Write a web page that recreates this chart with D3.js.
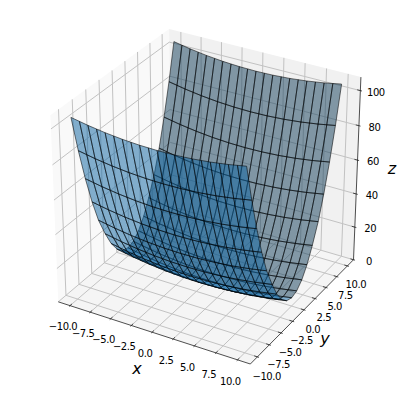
<!DOCTYPE html>
<html>
<head>
<meta charset="utf-8">
<script src="https://cdn.jsdelivr.net/npm/d3@7"></script>
<style>
  html, body { margin: 0; padding: 0; background: #fff; }
  text { font-family: "DejaVu Sans", sans-serif; fill: #000; }
</style>
</head>
<body>
<div id="chart"></div>
<script>
////////////////////////////////////////////////////////////////////////
// Values

let xGrid = [-10, -9, -8, -7, -6, -5, -4, -3, -2, -1, 0, 1, 2, 3, 4, 5, 6, 7, 8, 9, 10];
let blueY = [-10, -8.9, -7.8, -6.7, -5.6, -4.4, -3.3, -2.2, -1.1, 0];
let greyY = [0, 1.1, 2.2, 3.3, 4.4, 5.6, 6.7, 7.8, 8.9, 10];

// one row per entry of blueY, one column per entry of xGrid
let blueZ = [
  [105, 104.1, 103.2, 102.5, 101.8, 101.3, 100.8, 100.5, 100.2, 100.1, 100, 100.1, 100.2, 100.5, 100.8, 101.3, 101.8, 102.5, 103.2, 104.1, 105],
  [84, 83.1, 82.2, 81.5, 80.8, 80.3, 79.8, 79.5, 79.2, 79.1, 79, 79.1, 79.2, 79.5, 79.8, 80.3, 80.8, 81.5, 82.2, 83.1, 84],
  [65.5, 64.6, 63.7, 63, 62.3, 61.8, 61.3, 61, 60.7, 60.6, 60.5, 60.6, 60.7, 61, 61.3, 61.8, 62.3, 63, 63.7, 64.6, 65.5],
  [49.4, 48.5, 47.6, 46.9, 46.2, 45.7, 45.2, 44.9, 44.6, 44.5, 44.4, 44.5, 44.6, 44.9, 45.2, 45.7, 46.2, 46.9, 47.6, 48.5, 49.4],
  [35.9, 35, 34.1, 33.4, 32.7, 32.2, 31.7, 31.4, 31.1, 31, 30.9, 31, 31.1, 31.4, 31.7, 32.2, 32.7, 33.4, 34.1, 35, 35.9],
  [24.8, 23.9, 23, 22.3, 21.6, 21.1, 20.6, 20.3, 20, 19.9, 19.8, 19.9, 20, 20.3, 20.6, 21.1, 21.6, 22.3, 23, 23.9, 24.8],
  [16.1, 15.2, 14.3, 13.6, 12.9, 12.4, 11.9, 11.6, 11.3, 11.2, 11.1, 11.2, 11.3, 11.6, 11.9, 12.4, 12.9, 13.6, 14.3, 15.2, 16.1],
  [9.9, 9, 8.1, 7.4, 6.7, 6.2, 5.7, 5.4, 5.1, 5, 4.9, 5, 5.1, 5.4, 5.7, 6.2, 6.7, 7.4, 8.1, 9, 9.9],
  [6.2, 5.3, 4.4, 3.7, 3, 2.5, 2, 1.7, 1.4, 1.3, 1.2, 1.3, 1.4, 1.7, 2, 2.5, 3, 3.7, 4.4, 5.3, 6.2],
  [5, 4.1, 3.2, 2.5, 1.8, 1.3, 0.8, 0.5, 0.2, 0.1, 0, 0.1, 0.2, 0.5, 0.8, 1.3, 1.8, 2.5, 3.2, 4.1, 5]
];

// one row per entry of greyY, one column per entry of xGrid
let greyZ = [
  [5, 4.1, 3.2, 2.5, 1.8, 1.3, 0.8, 0.5, 0.2, 0.1, 0, 0.1, 0.2, 0.5, 0.8, 1.3, 1.8, 2.5, 3.2, 4.1, 5],
  [6.2, 5.3, 4.4, 3.7, 3, 2.5, 2, 1.7, 1.4, 1.3, 1.2, 1.3, 1.4, 1.7, 2, 2.5, 3, 3.7, 4.4, 5.3, 6.2],
  [9.9, 9, 8.1, 7.4, 6.7, 6.2, 5.7, 5.4, 5.1, 5, 4.9, 5, 5.1, 5.4, 5.7, 6.2, 6.7, 7.4, 8.1, 9, 9.9],
  [16.1, 15.2, 14.3, 13.6, 12.9, 12.4, 11.9, 11.6, 11.3, 11.2, 11.1, 11.2, 11.3, 11.6, 11.9, 12.4, 12.9, 13.6, 14.3, 15.2, 16.1],
  [24.8, 23.9, 23, 22.3, 21.6, 21.1, 20.6, 20.3, 20, 19.9, 19.8, 19.9, 20, 20.3, 20.6, 21.1, 21.6, 22.3, 23, 23.9, 24.8],
  [35.9, 35, 34.1, 33.4, 32.7, 32.2, 31.7, 31.4, 31.1, 31, 30.9, 31, 31.1, 31.4, 31.7, 32.2, 32.7, 33.4, 34.1, 35, 35.9],
  [49.4, 48.5, 47.6, 46.9, 46.2, 45.7, 45.2, 44.9, 44.6, 44.5, 44.4, 44.5, 44.6, 44.9, 45.2, 45.7, 46.2, 46.9, 47.6, 48.5, 49.4],
  [65.5, 64.6, 63.7, 63, 62.3, 61.8, 61.3, 61, 60.7, 60.6, 60.5, 60.6, 60.7, 61, 61.3, 61.8, 62.3, 63, 63.7, 64.6, 65.5],
  [84, 83.1, 82.2, 81.5, 80.8, 80.3, 79.8, 79.5, 79.2, 79.1, 79, 79.1, 79.2, 79.5, 79.8, 80.3, 80.8, 81.5, 82.2, 83.1, 84],
  [105, 104.1, 103.2, 102.5, 101.8, 101.3, 100.8, 100.5, 100.2, 100.1, 100, 100.1, 100.2, 100.5, 100.8, 101.3, 101.8, 102.5, 103.2, 104.1, 105]
];

let xTicks = [-10, -7.5, -5, -2.5, 0, 2.5, 5, 7.5, 10];
let yTicks = [-10, -7.5, -5, -2.5, 0, 2.5, 5, 7.5, 10];
let zTicks = [0, 20, 40, 60, 80, 100];

////////////////////////////////////////////////////////////////////////
// Layout

let width = 404;
let height = 394;

let svg = d3.select("#chart").append("svg")
  .attr("width", width)
  .attr("height", height)
  .style("display", "block");

// data -> unit box. z=0 sits on the floor of the box in the picture
let xScale = d3.scaleLinear().domain([-11, 11]).range([0, 1]);
let yScale = d3.scaleLinear().domain([-11, 11]).range([0, 1]);
let zScale = d3.scaleLinear().domain([0, 105]).range([-0.0208, 0.9683]);

// the drawn box sticks out of the limits by 1/48 of the range
let xLo = xScale.invert(-1 / 48), xHi = xScale.invert(49 / 48);
let yLo = yScale.invert(-1 / 48), yHi = yScale.invert(49 / 48);
let zLo = 0, zHi = 107.6;

// projected plane -> pixels
let pxX = d3.scaleLinear().domain([-0.095, 0.09]).range([6.1, 399.8]);
let pyY = d3.scaleLinear().domain([-0.095, 0.09]).range([387.9, -1.55]);

// Camera, the usual mplot3d one: elev 30, azim -60, distance 10
let elev = 30 * Math.PI / 180;
let azim = -60 * Math.PI / 180;
let dist = 10;
let n = [Math.cos(elev) * Math.cos(azim), Math.cos(elev) * Math.sin(azim), Math.sin(elev)];
let u = [-Math.sin(azim), Math.cos(azim), 0];
let v = [n[1] * u[2] - n[2] * u[1], n[2] * u[0] - n[0] * u[2], n[0] * u[1] - n[1] * u[0]];

function dot(a, b) { return a[0] * b[0] + a[1] * b[1] + a[2] * b[2]; }

// returns [px, py, depth] for a point given in data units
function project(x, y, z) {
  let d = [xScale(x) - 0.5, yScale(y) - 0.5, zScale(z) - 0.5];
  let depth = dist - dot(d, n);
  return [pxX(dot(d, u) / depth), pyY(dot(d, v) / depth), depth];
}

let line = d3.line();

function seg(g, a, b, color, w) {
  g.append("path")
    .attr("d", line([a, b].map(p => project(...p).slice(0, 2))))
    .attr("fill", "none")
    .attr("stroke", color)
    .attr("stroke-width", w);
}

function pane(g, pts, color) {
  g.append("path")
    .attr("d", line(pts.map(p => project(...p).slice(0, 2))) + "Z")
    .attr("fill", color)
    .attr("stroke", "none");
}

////////////////////////////////////////////////////////////////////////
// Panes and grid

let back = svg.append("g").attr("class", "panes");
pane(back, [[xLo, yLo, zLo], [xLo, yHi, zLo], [xLo, yHi, zHi], [xLo, yLo, zHi]], "#f9f9f9");
pane(back, [[xLo, yHi, zLo], [xHi, yHi, zLo], [xHi, yHi, zHi], [xLo, yHi, zHi]], "#f1f1f1");
pane(back, [[xLo, yLo, zLo], [xHi, yLo, zLo], [xHi, yHi, zLo], [xLo, yHi, zLo]], "#f5f5f5");

let grid = svg.append("g").attr("class", "grid");
let gridColor = "#c2c2c2";
xTicks.forEach(t => {
  seg(grid, [t, yLo, zLo], [t, yHi, zLo], gridColor, 1);
  seg(grid, [t, yHi, zLo], [t, yHi, zHi], gridColor, 1);
});
yTicks.forEach(t => {
  seg(grid, [xHi, t, zLo], [xLo, t, zLo], gridColor, 1);
  seg(grid, [xLo, t, zLo], [xLo, t, zHi], gridColor, 1);
});
zTicks.forEach(t => {
  seg(grid, [xHi, yHi, t], [xLo, yHi, t], gridColor, 1);
  seg(grid, [xLo, yHi, t], [xLo, yLo, t], gridColor, 1);
});

////////////////////////////////////////////////////////////////////////
// Axis lines, ticks, labels

let axes = svg.append("g").attr("class", "axes");
let axisColor = "#222";
let xPad = 22 / 12, yPad = 22 / 12;
let fmt = d3.format(".1f");

seg(axes, [xLo, yLo, zLo], [xHi, yLo, zLo], axisColor, 0.8);
seg(axes, [xHi, yLo, zLo], [xHi, yHi, zLo], axisColor, 0.8);
seg(axes, [xHi, yHi, zLo], [xHi, yHi, zHi], axisColor, 0.8);

function tickLabel(p, s) {
  axes.append("text")
    .attr("x", p[0])
    .attr("y", p[1])
    .attr("text-anchor", "middle")
    .attr("dominant-baseline", "central")
    .attr("font-size", "10px")
    .attr("letter-spacing", "-0.4px")
    .text(s);
}

// labels are pushed off the axis in box space, so they follow the perspective
xTicks.forEach(t => {
  seg(axes, [t, yLo - 0.1 * yPad, zLo], [t, yLo + 0.2 * yPad, zLo], axisColor, 0.8);
  tickLabel(project(t, yLo - 0.065 * 22, zLo - 0.082 * 106), fmt(t));
});
yTicks.forEach(t => {
  seg(axes, [xHi + 0.1 * xPad, t, zLo], [xHi - 0.2 * xPad, t, zLo], axisColor, 0.8);
  tickLabel(project(xHi + 0.05 * 22, t, zLo - 0.095 * 106), fmt(t));
});
zTicks.forEach(t => {
  seg(axes, [xHi + 0.1 * xPad, yHi, t], [xHi - 0.2 * xPad, yHi, t], axisColor, 0.8);
  let p = project(xHi, yHi, t);
  tickLabel([p[0] + 15.5, p[1] + 1.5], d3.format("d")(t));
});

function axisTitle(s, xp, yp) {
  axes.append("text")
    .attr("x", xp)
    .attr("y", yp)
    .attr("text-anchor", "middle")
    .attr("dominant-baseline", "central")
    .attr("font-size", "16px")
    .attr("font-style", "italic")
    .text(s);
}
axisTitle("x", 137, 368);
axisTitle("y", 325, 338);
axisTitle("z", 392, 168);

////////////////////////////////////////////////////////////////////////
// Surfaces. Cells are painted far to near inside each surface

function cells(ys, zs) {
  let out = [];
  for (let r = 0; r < ys.length - 1; r++) {
    for (let c = 0; c < xGrid.length - 1; c++) {
      let pts = [
        project(xGrid[c], ys[r], zs[r][c]),
        project(xGrid[c + 1], ys[r], zs[r][c + 1]),
        project(xGrid[c + 1], ys[r + 1], zs[r + 1][c + 1]),
        project(xGrid[c], ys[r + 1], zs[r + 1][c])
      ];
      out.push({ pts: pts, depth: d3.mean(pts, p => p[2]) });
    }
  }
  return out.sort((a, b) => b.depth - a.depth);
}

function drawSurface(cls, ys, zs, color) {
  svg.append("g").attr("class", cls)
    .selectAll("path")
    .data(cells(ys, zs))
    .join("path")
    .attr("d", d => line(d.pts.map(p => p.slice(0, 2))) + "Z")
    .attr("fill", color)
    .attr("fill-opacity", 0.5)
    .attr("stroke", "#000")
    .attr("stroke-opacity", 0.6)
    .attr("stroke-width", 0.9);
}

drawSurface("grey", greyY, greyZ, "#0f3b58");
drawSurface("blue", blueY, blueZ, "#0a62a0");
</script>
</body>
</html>
